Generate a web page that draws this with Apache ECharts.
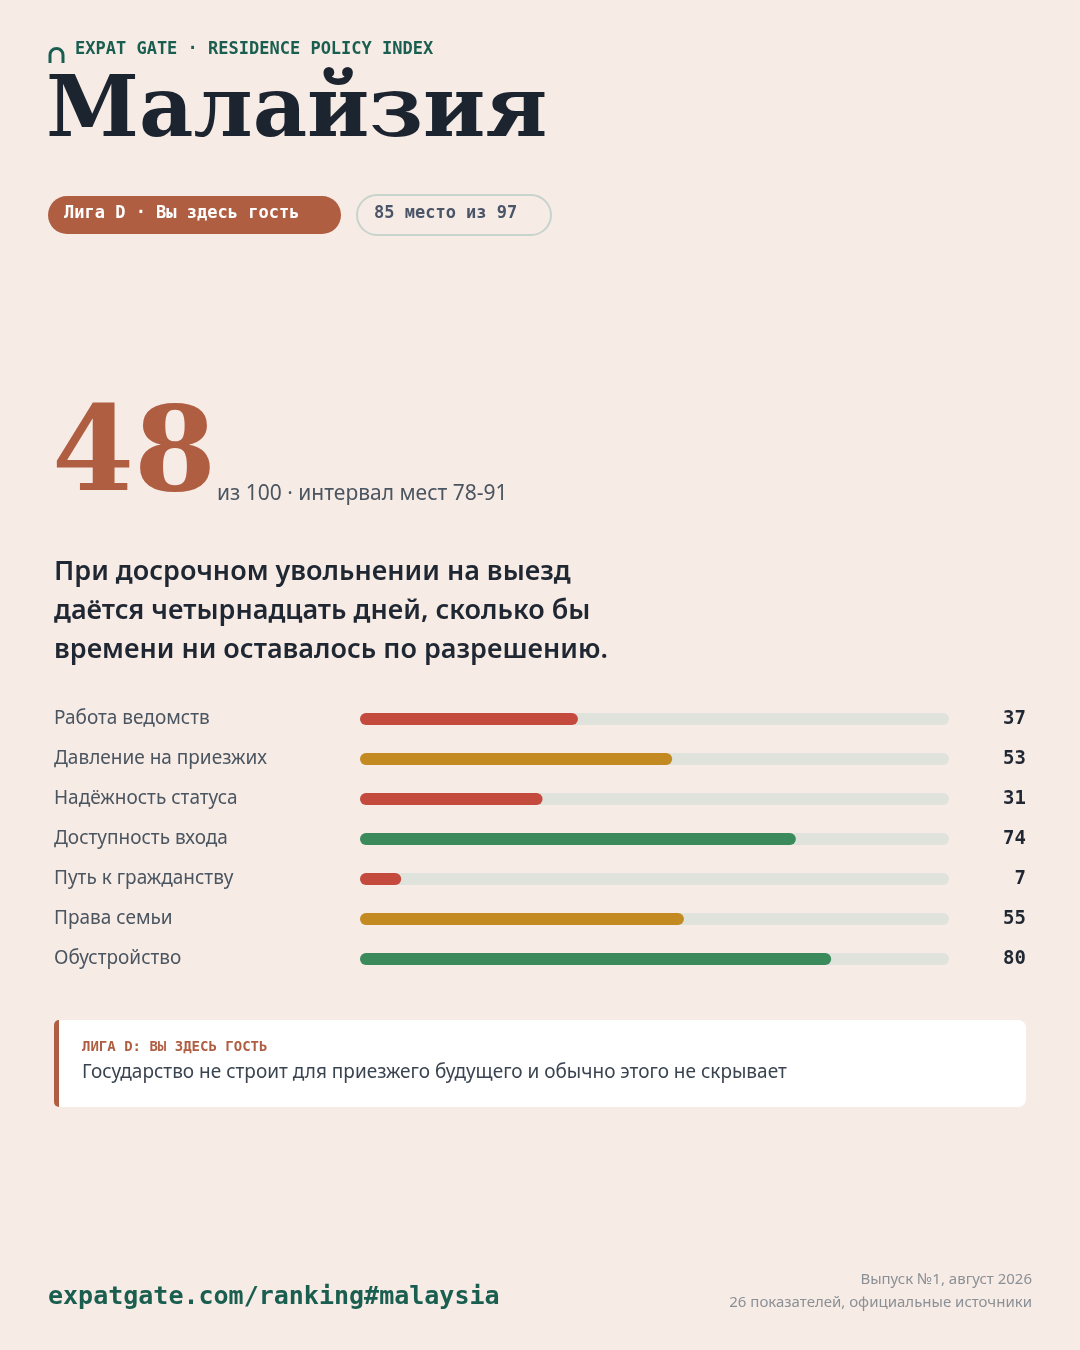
<!DOCTYPE html>
<html><head><meta charset="utf-8">
<script src="https://cdn.jsdelivr.net/npm/echarts@6/dist/echarts.min.js"></script>
<style>html,body{margin:0;padding:0;background:#f7ebe6}#c{width:1080px;height:1350px}</style>
</head><body><div id="c"></div>
<script>
const categories=["Работа ведомств","Давление на приезжих","Надёжность статуса","Доступность входа","Путь к гражданству","Права семьи","Обустройство"];
const values=[37,53,31,74,7,55,80];
const barColors=["#c44a3e","#c48a22","#c44a3e","#3a8a5c","#c44a3e","#c48a22","#3a8a5c"];
const maxVal=100;
const chart=echarts.init(document.getElementById('c'));
const mono='"DejaVu Sans Mono", monospace', sans='"Noto Sans", "Open Sans", sans-serif', serif='"DejaVu Serif", serif';
const logoStyle={stroke:'#1a5e50',lineWidth:3,fill:'none'};
chart.setOption({
  backgroundColor:'#f7ebe6',
  animation:false,
  grid:{left:360,right:131,top:699,height:280},
  xAxis:{type:'value',min:0,max:maxVal,show:false},
  yAxis:[
    {type:'category',inverse:true,data:categories,axisLine:{show:false},axisTick:{show:false},
     axisLabel:{align:'left',margin:306,fontFamily:sans,fontSize:19,color:'#4a5560'}},
    {type:'category',inverse:true,position:'right',data:values.map(String),axisLine:{show:false},axisTick:{show:false},
     axisLabel:{align:'right',margin:77,fontFamily:mono,fontWeight:'bold',fontSize:19,color:'#1f2733'}}
  ],
  series:[
    {type:'bar',data:categories.map(()=>maxVal),barWidth:12,barGap:'-100%',silent:true,
     itemStyle:{color:'#dfe3dc',borderRadius:6}},
    {type:'bar',data:values.map((v,i)=>({value:v,itemStyle:{color:barColors[i]}})),barWidth:12,
     itemStyle:{borderRadius:6}}
  ],
  graphic:[
    {type:'arc',shape:{cx:56.5,cy:55,r:6.5,startAngle:Math.PI,endAngle:2*Math.PI},style:logoStyle},
    {type:'line',shape:{x1:50,y1:55,x2:50,y2:63},style:logoStyle},
    {type:'line',shape:{x1:63,y1:55,x2:63,y2:63},style:logoStyle},
    {type:'text',left:75,top:41,style:{text:'EXPAT GATE · RESIDENCE POLICY INDEX',font:'bold 17px '+mono,fill:'#1a5e50'}},
    {type:'text',left:46,top:72,style:{text:'Малайзия',font:'bold 84px '+serif,fill:'#1c2430'}},
    {type:'rect',shape:{x:48,y:196,width:293,height:38,r:19},style:{fill:'#b05e42'}},
    {type:'text',left:64,top:205,style:{text:'Лига D · Вы здесь гость',font:'bold 17px '+mono,fill:'#fff'}},
    {type:'rect',shape:{x:357,y:195,width:194,height:40,r:20},style:{fill:'none',stroke:'#c8d3cc',lineWidth:2}},
    {type:'text',left:374,top:205,style:{text:'85 место из 97',font:'bold 17px '+mono,fill:'#4a5568'}},
    {type:'text',left:52,top:400,style:{text:'48',font:'bold 118px '+serif,fill:'#b05e42'}},
    {type:'text',left:217,top:484,style:{text:'из 100 · интервал мест 78-91',font:'21px '+sans,fill:'#4a5560'}},
    {type:'text',left:54,top:553,style:{text:'При досрочном увольнении на выезд\nдаётся четырнадцать дней, сколько бы\nвремени ни оставалось по разрешению.',font:'600 27px '+sans,fill:'#1f2733',lineHeight:39}},
    {type:'rect',shape:{x:54,y:1020,width:972,height:87,r:8},style:{fill:'#ffffff'}},
    {type:'rect',shape:{x:54,y:1020,width:5,height:87,r:[8,0,0,8]},style:{fill:'#b05e42'}},
    {type:'text',left:82,top:1040,style:{text:'ЛИГА D: ВЫ ЗДЕСЬ ГОСТЬ',font:'bold 14px '+mono,fill:'#b05e42'}},
    {type:'text',left:82,top:1063,style:{text:'Государство не строит для приезжего будущего и обычно этого не скрывает',font:'19px '+sans,fill:'#3a4450'}},
    {type:'text',left:48,top:1285,style:{text:'expatgate.com/ranking#malaysia',font:'bold 25px '+mono,fill:'#1a5e50'}},
    {type:'text',right:48,top:1272,style:{text:'Выпуск №1, август 2026',font:'15px '+sans,fill:'#8a9095'}},
    {type:'text',right:48,top:1295,style:{text:'26 показателей, официальные источники',font:'15px '+sans,fill:'#8a9095'}}
  ]
});
</script></body></html>
